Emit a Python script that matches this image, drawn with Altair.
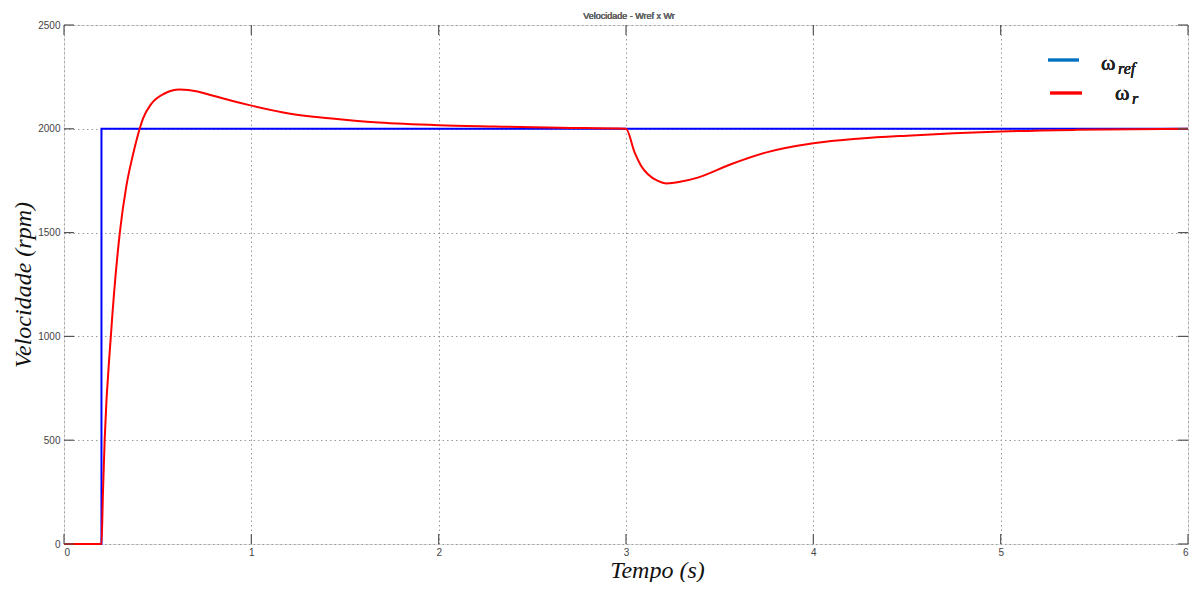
import altair as alt
import pandas as pd

# ---- data ----
t_ref = [0.0, 0.2, 0.2, 6.0]
w_ref = [0, 0, 2000, 2000]

t_r = [0.0, 0.19, 0.2, 0.208, 0.217, 0.25, 0.298, 0.333, 0.37, 0.404, 0.422, 0.466,
       0.537, 0.617, 0.713, 0.792, 0.9, 0.99, 1.2, 1.415, 1.68, 2.0, 2.3, 2.65, 3.0,
       3.046, 3.081, 3.117, 3.17, 3.215, 3.295, 3.383, 3.56, 3.74, 4.0, 4.25, 4.5,
       4.75, 5.0, 5.4, 6.0]
w_r = [0, 0, 0, 250, 500, 1000, 1500, 1725, 1882, 2000, 2050, 2120,
       2170, 2189, 2180, 2160, 2134, 2114, 2074, 2051, 2030, 2017, 2011, 2005, 2000,
       1886, 1821, 1781, 1749, 1737, 1746, 1765, 1829, 1884, 1930, 1953, 1967,
       1978, 1987, 1995, 2000]

x_ticks = [0, 1, 2, 3, 4, 5, 6]
y_ticks = [0, 500, 1000, 1500, 2000, 2500]

W, H = 1124, 519

ref_df = pd.DataFrame({"t": t_ref, "w": w_ref, "o": list(range(len(t_ref)))})
r_df = pd.DataFrame({"t": t_r, "w": w_r, "o": list(range(len(t_r)))})
xt_df = pd.DataFrame({"t": x_ticks})
yt_df = pd.DataFrame({"w": y_ticks})

xscale = alt.Scale(domain=[0, 6], nice=False, zero=False)
yscale = alt.Scale(domain=[0, 2500], nice=False)

x_axis = alt.Axis(values=x_ticks, title="Tempo (s)", ticks=False, domain=False,
                  gridDash=[1.5, 3], gridColor="#9a9a9a", gridWidth=1,
                  labelFont="Liberation Sans", labelFontSize=10, labelColor="#444",
                  labelPadding=3, titleFont="Liberation Serif", titleFontStyle="italic",
                  titleFontWeight="normal", titleFontSize=24, titleColor="#111",
                  titleX=593, titleY=33, titleBaseline="alphabetic", format="d")
y_axis = alt.Axis(values=y_ticks, title="Velocidade (rpm)", ticks=False, domain=False,
                  gridDash=[1.5, 3], gridColor="#9a9a9a", gridWidth=1,
                  labelFont="Liberation Sans", labelFontSize=10, labelColor="#444",
                  labelPadding=4, titleFont="Liberation Serif", titleFontStyle="italic",
                  titleFontWeight="normal", titleFontSize=24, titleColor="#111",
                  titleX=-41, titleY=H / 2, titleBaseline="middle", titleAngle=270,
                  format="d")

ref_line = alt.Chart(ref_df).mark_line(color="#0000FF", strokeWidth=2).encode(
    x=alt.X("t:Q", scale=xscale, axis=x_axis),
    y=alt.Y("w:Q", scale=yscale, axis=y_axis),
    order="o:Q",
)
r_line = alt.Chart(r_df).mark_line(color="#FF0000", strokeWidth=2, interpolate="monotone").encode(
    x=alt.X("t:Q", scale=xscale),
    y=alt.Y("w:Q", scale=yscale),
    order="o:Q",
)

tick_col = "#555"
bottom_ticks = alt.Chart(xt_df).mark_rule(color=tick_col, strokeWidth=1.2).encode(
    x=alt.X("t:Q", scale=xscale), y=alt.value(H), y2=alt.value(H - 10))
top_ticks = alt.Chart(xt_df).mark_rule(color=tick_col, strokeWidth=1.2).encode(
    x=alt.X("t:Q", scale=xscale), y=alt.value(0), y2=alt.value(10))
left_ticks = alt.Chart(yt_df).mark_rule(color=tick_col, strokeWidth=1.2).encode(
    y=alt.Y("w:Q", scale=yscale), x=alt.value(0), x2=alt.value(10))
right_ticks = alt.Chart(yt_df).mark_rule(color=tick_col, strokeWidth=1.2).encode(
    y=alt.Y("w:Q", scale=yscale), x=alt.value(W), x2=alt.value(W - 10))

# ---- title as text ----
title_txt = alt.Chart(ref_df).mark_text(text="Velocidade - Wref x Wr", font="Liberation Sans",
                                        fontSize=9, fontWeight="normal", align="center",
                                        baseline="alphabetic", color="#666").encode(
    x=alt.value(W / 2 + 3), y=alt.value(-6))

# ---- legend (manual, for subscripts) ----
leg_blue = alt.Chart(ref_df).mark_rule(color="#0070C0", strokeWidth=2.5).encode(
    x=alt.value(984), x2=alt.value(1015), y=alt.value(35))
leg_red = alt.Chart(ref_df).mark_rule(color="#FF0000", strokeWidth=2.5).encode(
    x=alt.value(986), x2=alt.value(1018), y=alt.value(68))
om1 = alt.Chart(ref_df).mark_text(text="ω", font="Liberation Serif", fontSize=22, fontWeight="normal",
                                  align="left", baseline="alphabetic", color="#222").encode(
    x=alt.value(1037), y=alt.value(45))
sub1 = alt.Chart(ref_df).mark_text(text="ref", font="Liberation Serif", fontStyle="italic",
                                   fontWeight="normal", fontSize=16, align="left",
                                   baseline="alphabetic", color="#222").encode(
    x=alt.value(1054), y=alt.value(49))
om2 = alt.Chart(ref_df).mark_text(text="ω", font="Liberation Serif", fontSize=22, fontWeight="normal",
                                  align="left", baseline="alphabetic", color="#222").encode(
    x=alt.value(1051), y=alt.value(75))
sub2 = alt.Chart(ref_df).mark_text(text="r", font="Liberation Serif", fontStyle="italic",
                                   fontWeight="normal", fontSize=16, align="left",
                                   baseline="alphabetic", color="#222").encode(
    x=alt.value(1068), y=alt.value(79))

chart = alt.layer(
    ref_line, r_line, bottom_ticks, top_ticks, left_ticks, right_ticks,
    title_txt, leg_blue, leg_red, om1, sub1, om2, sub2,
).properties(
    width=W, height=H,
    autosize=alt.AutoSizeParams(type="none"),
    padding={"left": 56, "top": 17, "right": 1, "bottom": 38},
).configure_view(
    stroke="#777", strokeWidth=1.5
).configure(background="white")

chart.save("out.html", embed_options={"renderer": "svg", "actions": False})
